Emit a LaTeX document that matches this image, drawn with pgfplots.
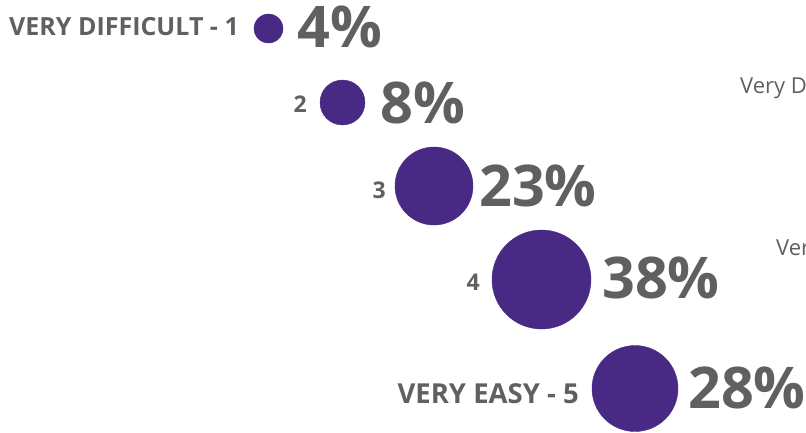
\documentclass[border=0pt]{standalone}
\usepackage{pgfplots}
\pgfplotsset{compat=1.18}
\usepackage{pgfplotstable}
\usepackage{fontspec}
\setmainfont{Open Sans}
\definecolor{bubble}{HTML}{482A85}
\definecolor{txt}{HTML}{5F6062}
\pgfplotstableread[col sep=comma]{
x,y,r,v,px,py,lx,ly,lab,fs
268.5,28.5,14.5,4,297,27,239,27,VERY DIFFICULT - 1,25
342.5,102.5,22.5,8,380,103,307,104,2,23
434,186,39,23,479,186,386,190,3,23
541.5,279.5,49.5,38,602,278,480,282,4,23
635,388.5,43,28,688,388,579,394,VERY EASY - 5,27.5
}\data
\begin{document}
\begin{tikzpicture}
\path[use as bounding box, clip] (0,0) rectangle (806pt,-432pt);
\begin{axis}[
  at={(0,0)}, anchor=north west,
  scale only axis, width=806pt, height=432pt,
  xmin=0, xmax=806, ymin=0, ymax=432, y dir=reverse,
  hide axis, clip=false,
]
% bubbles
\addplot[scatter, only marks, mark=*, point meta=explicit,
  scatter/use mapped color={draw=bubble, fill=bubble},
  visualization depends on={\thisrow{r}\as\perpointmarksize},
  scatter/@pre marker code/.append style={/tikz/mark size=\perpointmarksize}]
  table[x=x, y=y, meta=v]{\data};
% percentages
\addplot[only marks, mark=none, point meta=explicit symbolic,
  nodes near coords={\pgfplotspointmeta\%},
  nodes near coords style={anchor=west, inner sep=0pt, text=txt,
    font=\fontsize{57.5}{57.5}\selectfont\bfseries}]
  table[x=px, y=py, meta=v]{\data};
% category labels
\addplot[only marks, mark=none, point meta=explicit symbolic,
  visualization depends on={\thisrow{fs}\as\fsz},
  nodes near coords={\pgfplotspointmeta},
  nodes near coords style={anchor=east, inner sep=0pt, text=txt,
    font=\fontsize{\fsz}{\fsz}\selectfont\bfseries}]
  table[x=lx, y=ly, meta=lab]{\data};
\node[anchor=west, inner sep=0pt, text=txt, font=\fontsize{22}{22}\selectfont] at (axis cs:740,88) {Very Difficult};
\node[anchor=west, inner sep=0pt, text=txt, font=\fontsize{22}{22}\selectfont] at (axis cs:776,250) {Very Easy};
\end{axis}
\end{tikzpicture}
\end{document}
